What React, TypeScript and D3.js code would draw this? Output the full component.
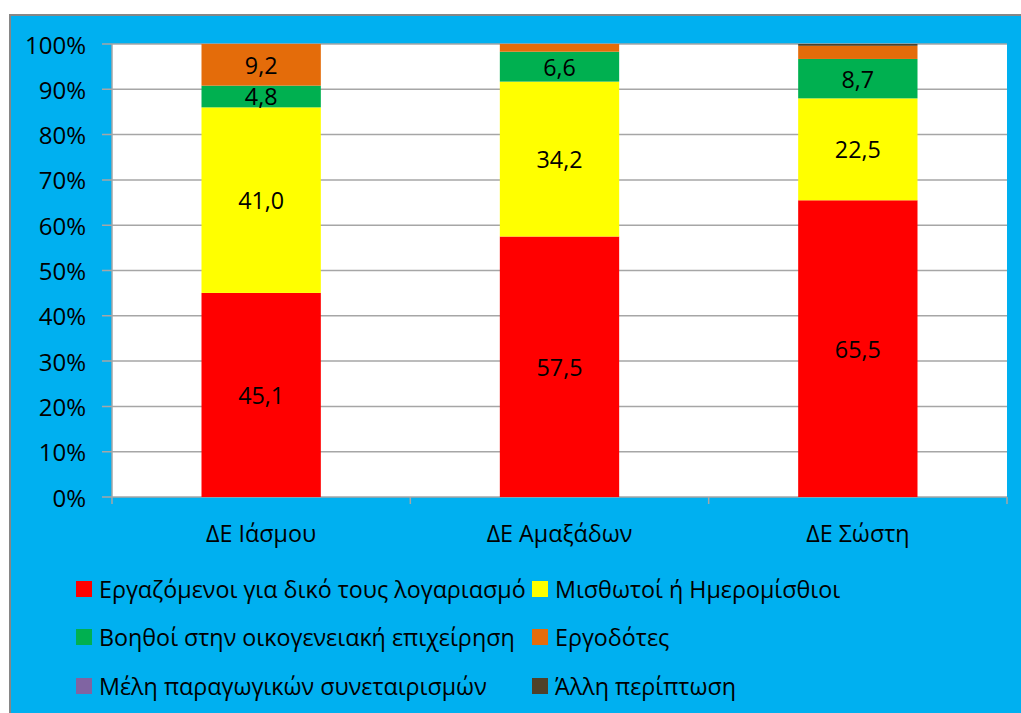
import React from "react";
import * as d3 from "d3";

const categories = ["ΔΕ Ιάσμου", "ΔΕ Αμαξάδων", "ΔΕ Σώστη"];
const seriesNames = [
  "Εργαζόμενοι για δικό τους λογαριασμό",
  "Μισθωτοί ή Ημερομίσθιοι",
  "Βοηθοί στην οικογενειακή επιχείρηση",
  "Εργοδότες",
  "Μέλη παραγωγικών συνεταιρισμών",
  "Άλλη περίπτωση",
];
const ownAccount = [45.1, 57.5, 65.5];
const salaried = [41.0, 34.2, 22.5];
const helpers = [4.8, 6.6, 8.7];
const employers = [9.2, 1.7, 2.9];
const cooperatives = [0, 0, 0];
const other = [0, 0, 0.4];
const seriesColors = ["#FF0000", "#FFFF00", "#00B050", "#E46C0A", "#8064A2", "#4F4129"];
const yTicks = [0, 10, 20, 30, 40, 50, 60, 70, 80, 90, 100];

const seriesValues = [ownAccount, salaried, helpers, employers, cooperatives, other];

const W = 1021;
const H = 713;
const plot = { left: 112, top: 44, right: 1007, bottom: 497 };
const font = "'Open Sans', sans-serif";
const fs = 23.3;

export default function App() {
  const x = d3
    .scaleBand<string>()
    .domain(categories)
    .range([plot.left, plot.right])
    .paddingInner(0)
    .paddingOuter(0);
  const y = d3.scaleLinear().domain([0, 100]).range([plot.bottom, plot.top]);
  const barW = x.bandwidth() * 0.4;

  const totals = categories.map((_, i) => d3.sum(seriesValues, (s) => s[i]));
  const rows = categories.map((c, i) => {
    const o: any = { cat: c };
    seriesNames.forEach((s, j) => (o[s] = (seriesValues[j][i] / totals[i]) * 100));
    return o;
  });
  const stacked = d3.stack<any>().keys(seriesNames)(rows);

  const boundaries = [...categories.map((c) => x(c)!), plot.right];

  const legendRows = [
    [0, 1],
    [2, 3],
    [4, 5],
  ];
  const legendY = [589, 637, 686];
  const legendX = [76, 532];

  return (
    <svg
      width={W}
      height={H}
      style={{ position: "absolute", left: 0, top: 0, display: "block" }}
    >
      <rect x={0} y={0} width={W} height={H} fill="#ffffff" />
      <rect x={10} y={15} width={W} height={H} fill="#00B0F0" stroke="#868686" strokeWidth={2} />
      <rect
        x={plot.left}
        y={plot.top}
        width={plot.right - plot.left}
        height={plot.bottom - plot.top}
        fill="#ffffff"
      />
      {yTicks.map((t) => (
        <g key={t}>
          <line
            x1={plot.left - 10}
            x2={plot.right}
            y1={y(t)}
            y2={y(t)}
            stroke="#A6A6A6"
            strokeWidth={1.5}
          />
          <text
            x={86}
            y={y(t)}
            textAnchor="end"
            dominantBaseline="central"
            fontFamily={font}
            fontSize={fs + 0.7}
            fill="#000"
          >
            {t}%
          </text>
        </g>
      ))}
      <line x1={plot.left} x2={plot.left} y1={plot.top} y2={plot.bottom} stroke="#A6A6A6" strokeWidth={1.5} />
      {boundaries.map((b, i) => (
        <line key={i} x1={b} x2={b} y1={plot.bottom} y2={plot.bottom + 7} stroke="#A6A6A6" strokeWidth={1.5} />
      ))}
      {stacked.map((layer, j) => (
        <g key={layer.key}>
          {layer.map((d, i) => {
            const h = y(d[0]) - y(d[1]);
            if (h <= 0) return null;
            const cx = x(categories[i])! + x.bandwidth() / 2;
            const v = seriesValues[j][i];
            return (
              <g key={i}>
                <rect
                  x={cx - barW / 2}
                  y={y(d[1])}
                  width={barW}
                  height={h}
                  fill={seriesColors[j]}
                />
                {v >= 4 && (
                  <text
                    x={cx}
                    y={(y(d[0]) + y(d[1])) / 2}
                    textAnchor="middle"
                    dominantBaseline="central"
                    fontFamily={font}
                    fontSize={fs}
                    fill="#000"
                  >
                    {d3.format(".1f")(v).replace(".", ",")}
                  </text>
                )}
              </g>
            );
          })}
        </g>
      ))}
      {categories.map((c) => (
        <text
          key={c}
          x={x(c)! + x.bandwidth() / 2}
          y={533}
          textAnchor="middle"
          dominantBaseline="central"
          fontFamily={font}
          fontSize={fs}
          fill="#000"
        >
          {c}
        </text>
      ))}
      {legendRows.map((row, ri) =>
        row.map((si, ci) => (
          <g key={si}>
            <rect
              x={legendX[ci]}
              y={legendY[ri] - 8}
              width={16}
              height={16}
              fill={seriesColors[si]}
            />
            <text
              x={legendX[ci] + 23}
              y={legendY[ri]}
              dominantBaseline="central"
              fontFamily={font}
              fontSize={fs}
              fill="#000"
            >
              {seriesNames[si]}
            </text>
          </g>
        ))
      )}
    </svg>
  );
}
